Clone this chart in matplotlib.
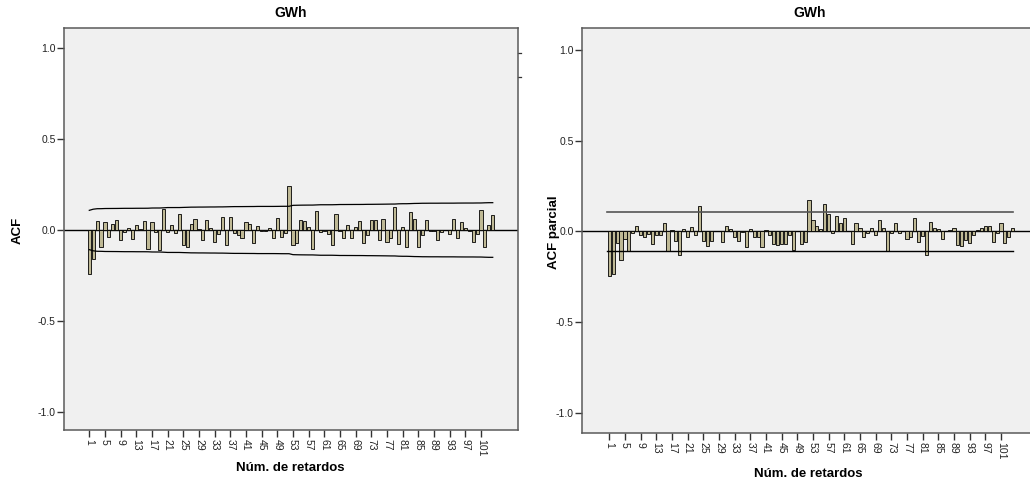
# Imports

import numpy as np
import matplotlib
matplotlib.use('Agg')
import matplotlib.pyplot as plt
from matplotlib.ticker import FixedLocator

lags = list(range(1, 105))
tick_lags = list(range(1, 102, 4))
n_obs = 329

acf_values = [
	-0.244, -0.161, 0.048, -0.093, 0.042, -0.038, 0.035, 0.057, -0.057, -0.013,
	0.009, -0.051, 0.029, 0.007, 0.048, -0.104, 0.042, -0.013, -0.108, 0.115,
	-0.013, 0.027, -0.016, 0.088, -0.082, -0.093, 0.031, 0.059, 0.005, -0.053,
	0.055, 0.009, -0.066, -0.024, 0.071, -0.082, 0.071, -0.015, -0.027, -0.046,
	0.042, 0.033, -0.073, 0.020, -0.005, -0.005, 0.009, -0.046, 0.064, -0.038,
	-0.015, 0.242, -0.082, -0.070, 0.053, 0.049, 0.016, -0.103, 0.103, -0.011,
	-0.005, -0.024, -0.082, 0.090, -0.005, -0.042, 0.026, -0.042, 0.016, 0.048,
	-0.073, -0.027, 0.055, 0.053, -0.057, 0.059, -0.066, -0.042, 0.126, -0.079,
	0.015, -0.093, 0.101, 0.062, -0.093, -0.029, 0.053, -0.005, -0.005, -0.057,
	-0.013, 0.002, -0.024, 0.062, -0.042, 0.042, 0.009, -0.005, -0.064, -0.024,
	0.108, -0.092, 0.026, 0.081,
]

pacf_values = [
	-0.244, -0.234, -0.064, -0.156, -0.040, -0.105, -0.007, 0.033, -0.022, -0.028,
	-0.013, -0.068, -0.017, -0.018, 0.046, -0.105, 0.009, -0.055, -0.129, 0.015,
	-0.028, 0.024, -0.022, 0.138, -0.051, -0.081, -0.055, 0.002, 0.002, -0.059,
	0.033, 0.013, -0.028, -0.051, -0.004, -0.083, 0.015, -0.031, -0.028, -0.083,
	0.009, -0.022, -0.068, -0.073, -0.068, -0.068, -0.017, -0.101, 0.004, -0.068,
	-0.060, 0.176, 0.061, 0.028, 0.013, 0.149, 0.094, -0.009, 0.086, 0.046,
	0.077, 0.002, -0.068, 0.046, 0.017, -0.031, -0.009, 0.020, -0.017, 0.061,
	0.020, -0.108, -0.006, 0.048, -0.006, 0.004, -0.042, -0.028, 0.072, -0.057,
	-0.026, -0.130, 0.051, 0.020, 0.013, -0.042, 0.002, 0.009, 0.018, -0.075,
	-0.079, -0.046, -0.064, -0.022, 0.006, 0.018, 0.033, 0.033, -0.059, -0.006,
	0.046, -0.064, -0.031, 0.018,
]

# Confidence limits (Bartlett for ACF, constant for PACF)

acf_arr = np.array(acf_values)
cum_sq = np.concatenate([[0.0], np.cumsum(acf_arr[:-1] ** 2)])
acf_limit = 1.96 * np.sqrt((1 + 2 * cum_sq) / n_obs)
pacf_limit = 1.96 / np.sqrt(n_obs)

# Styling

plt.rcParams['font.family'] = ['Liberation Sans', 'DejaVu Sans']
bar_color = '#bfb995'
panel_color = '#f0f0f0'
spine_color = '#5a5a5a'

fig = plt.figure(figsize=(10.3, 4.87), dpi=100)
W, H = 1030, 487

def make_axes(left, right, top, bottom, ylim, xlim):
	ax = fig.add_axes([left / W, 1 - bottom / H, (right - left) / W, (bottom - top) / H])
	ax.set_facecolor(panel_color)
	ax.set_xlim(*xlim)
	ax.set_ylim(*ylim)
	for side in ['left', 'bottom', 'top', 'right']:
		ax.spines[side].set_color(spine_color)
		ax.spines[side].set_linewidth(1.1)
	ax.yaxis.set_major_locator(FixedLocator([-1.0, -0.5, 0.0, 0.5, 1.0]))
	ax.set_yticklabels(['-1.0', '-0.5', '0.0', '0.5', '1.0'])
	ax.xaxis.set_major_locator(FixedLocator(tick_lags))
	ax.set_xticklabels([str(t) for t in tick_lags], rotation=-90, va='top', ha='center')
	ax.tick_params(axis='both', direction='out', length=5, width=1, color='#333333',
		labelsize=7.5, labelcolor='#222222', pad=1.5)
	ax.tick_params(axis='y', pad=1)
	ax.axhline(0, color='black', linewidth=1)
	return ax

# Left panel: ACF

ax1 = make_axes(64, 518, 28, 430, (-1.099, 1.11), (-5.46, 110.45))
ax1.bar(lags, acf_values, width=0.8, color=bar_color, edgecolor='black', linewidth=0.6, zorder=3)
ax1.plot(lags, acf_limit, color='black', linewidth=0.9, zorder=4)
ax1.plot(lags, -acf_limit, color='black', linewidth=0.9, zorder=4)
for y_mark in [0.973, 0.841]:
	ax1.plot([1.0, 1.006], [y_mark, y_mark], color='#333333', linewidth=0.9,
		transform=ax1.get_yaxis_transform(), clip_on=False)
ax1.set_title('GWh', fontsize=10, fontweight='bold', pad=8)
fig.text(18 / W, 1 - 230 / H, 'ACF', rotation=90, fontsize=9.5, fontweight='bold', ha='center', va='center')
fig.text(290 / W, 1 - 468 / H, 'Núm. de retardos', fontsize=9.5, fontweight='bold', ha='center', va='center')

# Right panel: PACF

ax2 = make_axes(582, 1038, 28, 433, (-1.110, 1.121), (-5.97, 110.45))
ax2.bar(lags, pacf_values, width=0.8, color=bar_color, edgecolor='black', linewidth=0.6, zorder=3)
ax2.plot([lags[0] - 0.7, lags[-1]], [pacf_limit, pacf_limit], color='#555555', linewidth=1.2, zorder=4)
ax2.plot([lags[0] - 0.7, lags[-1]], [-pacf_limit, -pacf_limit], color='black', linewidth=1.0, zorder=4)
ax2.set_title('GWh', fontsize=10, fontweight='bold', pad=8)
fig.text(554 / W, 1 - 232 / H, 'ACF parcial', rotation=90, fontsize=9.5, fontweight='bold', ha='center', va='center')
fig.text(808 / W, 1 - 474 / H, 'Núm. de retardos', fontsize=9.5, fontweight='bold', ha='center', va='center')

fig.savefig('out.png', dpi=100, facecolor='white')
